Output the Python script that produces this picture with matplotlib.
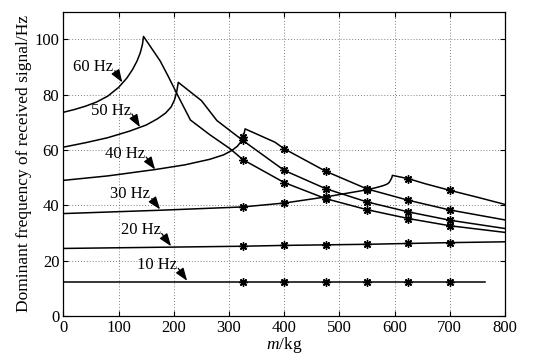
import numpy as np
import matplotlib
matplotlib.use("Agg")
import matplotlib.pyplot as plt

plt.rcParams['font.family'] = ['Liberation Serif', 'DejaVu Serif']
plt.rcParams['mathtext.fontset'] = 'custom'
plt.rcParams['mathtext.rm'] = 'Liberation Serif'
plt.rcParams['mathtext.it'] = 'Liberation Serif:italic'

# ---- data ----
m60 = [0, 20, 40, 60, 80, 100, 115, 125, 133, 139, 143, 145, 160, 175, 190, 205, 230, 265, 302, 325, 400, 475, 550, 625, 700, 800]
f60 = [73.6, 74.6, 75.8, 77.3, 79.4, 82.6, 86.0, 89.0, 92.0, 95.0, 98.0, 101.0, 96.6, 92.2, 86.5, 80.5, 70.8, 65.5, 60.4, 56.5, 48.2, 42.4, 38.4, 35.2, 32.6, 30.2]

m50 = [0, 40, 80, 120, 150, 170, 185, 195, 201, 205, 208, 250, 278, 325, 400, 475, 550, 625, 700, 800]
f50 = [61.0, 62.6, 64.4, 66.8, 69.0, 71.2, 73.3, 75.5, 78.0, 80.8, 84.4, 77.8, 70.6, 63.4, 52.6, 46.0, 41.2, 37.6, 34.6, 31.6]

m40 = [0, 80, 166, 220, 265, 290, 305, 315, 321, 325, 328, 329, 356, 383, 400, 475, 550, 625, 700, 800]
f40 = [49.0, 50.6, 52.9, 54.6, 56.6, 58.2, 59.8, 61.3, 62.8, 64.6, 66.5, 67.6, 65.2, 62.8, 60.4, 52.3, 45.9, 41.8, 38.3, 34.7]

m30 = [0, 175, 325, 400, 475, 550, 565, 578, 586, 590, 593, 595, 596, 625, 655, 700, 750, 800]
f30 = [37.0, 38.2, 39.4, 40.8, 43.0, 45.6, 46.3, 47.0, 47.6, 48.2, 49.2, 50.0, 50.8, 49.6, 47.8, 45.4, 42.9, 40.3]

m20 = [0, 325, 400, 475, 550, 625, 700, 800]
f20 = [24.4, 25.2, 25.5, 25.7, 25.9, 26.2, 26.5, 26.8]

m10 = [0, 325, 400, 475, 550, 625, 700, 764]
f10 = [12.4, 12.4, 12.4, 12.4, 12.4, 12.4, 12.4, 12.4]

m_star = [325, 400, 475, 550, 625, 700]

labels = ['60 Hz', '50 Hz', '40 Hz', '30 Hz', '20 Hz', '10 Hz']
label_xy = [(53, 89.8), (86, 73.9), (111, 58.6), (120, 44.0), (140, 31.0), (170, 18.4)]
arrow_from = [(93, 88.6), (124, 73.0), (150, 57.4), (160, 42.4), (178, 29.8), (208, 17.2)]
arrow_to = [(106.5, 84.4), (138.6, 68.2), (166, 52.9), (175, 38.5), (195, 25.2), (224, 12.7)]

curves = [(m60, f60), (m50, f50), (m40, f40), (m30, f30), (m20, f20), (m10, f10)]

fig = plt.figure(figsize=(5.44, 3.55), dpi=100)
ax = fig.add_axes([0.1167, 0.1099, 0.9283 - 0.1167, 0.9676 - 0.1099])

for m, f in curves:
    ax.plot(m, f, color='black', lw=1.1, zorder=3)
    ys = np.interp(m_star, m, f)
    ax.plot(m_star, ys, linestyle='none', marker=(8, 2, 0), markersize=6,
            markeredgewidth=1.0, color='black', zorder=4)

for lab, txy, a0, a1 in zip(labels, label_xy, arrow_from, arrow_to):
    ax.text(txy[0], txy[1], lab, fontsize=12, ha='center', va='center')
    ax.annotate('', xy=a1, xytext=a0,
                arrowprops=dict(arrowstyle='-|>,head_length=0.55,head_width=0.2',
                                color='black', lw=0.9, shrinkA=0, shrinkB=0,
                                mutation_scale=14))

ax.set_xlim(0, 800)
ax.set_ylim(0, 110)
ax.set_xticks(np.arange(0, 801, 100))
ax.set_yticks(np.arange(0, 101, 20))
ax.grid(True, color='0.5', linestyle=(0, (1, 2)), linewidth=0.7)
ax.tick_params(direction='in', top=True, right=True, length=3.5, width=0.8,
               labelsize=12, pad=3)
for s in ax.spines.values():
    s.set_linewidth(0.9)
ax.set_xlabel(r'$m$/kg', fontsize=12.5, labelpad=-1)
ax.set_ylabel('Dominant frequency of received signal/Hz', fontsize=12.5, labelpad=2)

fig.savefig('out.png', dpi=100)
